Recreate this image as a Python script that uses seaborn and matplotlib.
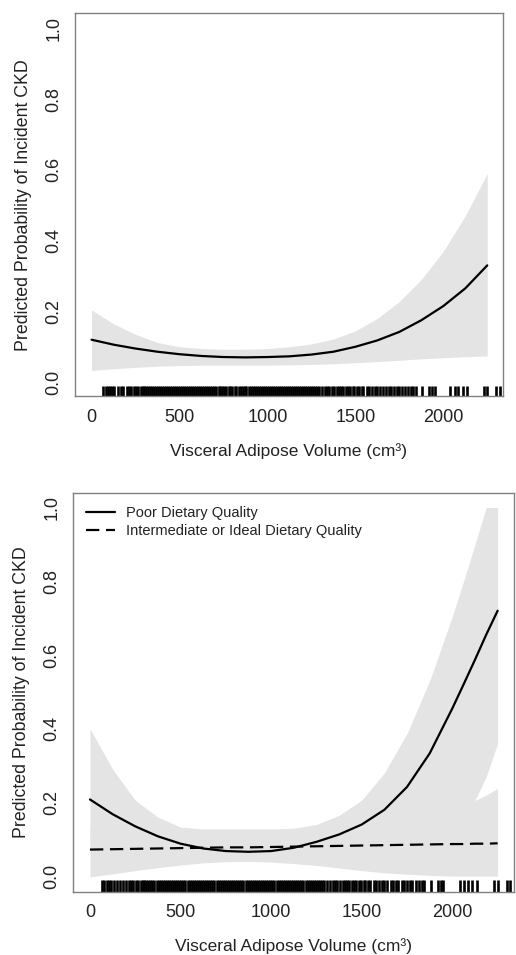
import matplotlib
matplotlib.use("Agg")
import matplotlib.pyplot as plt
import seaborn as sns

# --- data ---
# top panel: overall association
x_top = [0, 125, 250, 375, 500, 625, 750, 875, 1000, 1125, 1250, 1375, 1500,
         1625, 1750, 1875, 2000, 2125, 2250]
p_top = [0.120, 0.106, 0.095, 0.086, 0.079, 0.074, 0.071, 0.070, 0.071, 0.073,
         0.078, 0.086, 0.100, 0.118, 0.142, 0.175, 0.215, 0.265, 0.330]
hi_top = [0.204, 0.165, 0.135, 0.112, 0.100, 0.095, 0.093, 0.093, 0.095, 0.100,
          0.108, 0.122, 0.145, 0.180, 0.228, 0.290, 0.370, 0.470, 0.590]
lo_top = [0.033, 0.038, 0.042, 0.045, 0.047, 0.048, 0.048, 0.048, 0.048, 0.049,
          0.050, 0.052, 0.055, 0.058, 0.062, 0.066, 0.069, 0.072, 0.074]

# bottom panel: by dietary quality
x_bot = [0, 125, 250, 375, 500, 625, 750, 875, 1000, 1125, 1250, 1375, 1500,
         1625, 1750, 1875, 2000, 2062, 2125, 2187, 2250]
p_poor = [0.208, 0.168, 0.135, 0.108, 0.088, 0.075, 0.068, 0.066, 0.068, 0.077,
          0.093, 0.113, 0.140, 0.180, 0.242, 0.333, 0.455, 0.520, 0.587, 0.655, 0.720]
hi_poor = [0.400, 0.290, 0.206, 0.160, 0.133, 0.128, 0.128, 0.128, 0.128, 0.130,
           0.140, 0.165, 0.206, 0.280, 0.387, 0.530, 0.705, 0.800, 0.900, 1.000, 1.000]
lo_poor = [0.090, 0.085, 0.075, 0.063, 0.055, 0.048, 0.045, 0.044, 0.045, 0.050,
           0.060, 0.072, 0.088, 0.110, 0.135, 0.160, 0.180, 0.190, 0.205, 0.270, 0.360]
p_ideal = [0.072, 0.073, 0.074, 0.075, 0.076, 0.077, 0.078, 0.078, 0.079, 0.080,
           0.081, 0.082, 0.083, 0.084, 0.085, 0.086, 0.087, 0.087, 0.088, 0.088, 0.089]
hi_ideal = [0.130, 0.120, 0.110, 0.105, 0.102, 0.102, 0.104, 0.106, 0.110, 0.115,
            0.122, 0.130, 0.140, 0.150, 0.162, 0.175, 0.188, 0.196, 0.205, 0.220, 0.238]
lo_ideal = [-0.002, 0.006, 0.015, 0.023, 0.030, 0.036, 0.039, 0.040, 0.038, 0.034,
            0.029, 0.022, 0.015, 0.009, 0.005, 0.002, 0.000, 0.000, 0.000, 0.000, 0.000]

# observed visceral adipose volumes (rug)
rug_x = [65, 80, 92, 105, 118, 130, 150, 165, 180, 200, 215, 225, 240, 255, 265,
         280, 290,
         300, 310, 322, 333, 345, 356, 368, 379, 390, 402, 413, 425, 436, 447, 459,
         470, 482, 493, 505, 516, 527, 539, 550, 562, 573, 585, 596, 607, 619, 630,
         642, 653, 664, 676, 687, 699, 710, 722, 733, 744, 756, 767, 779, 790, 801,
         813, 824, 836, 847, 859, 870, 881, 893, 904, 916, 927, 939, 950, 961, 973,
         984, 996, 1007, 1018, 1030, 1041, 1053, 1064, 1076, 1087, 1098, 1110, 1121,
         1133, 1144, 1155, 1167, 1178, 1190, 1201, 1213, 1224, 1235, 1247, 1258,
         1270, 1281, 1292,
         1310, 1325, 1340, 1350, 1365, 1380, 1395, 1405, 1420, 1430, 1445, 1460,
         1470, 1485, 1495, 1510, 1520, 1535, 1545,
         1565, 1580, 1595, 1610, 1625, 1640, 1660, 1675, 1690, 1700, 1720, 1735,
         1750, 1765, 1780, 1800, 1815, 1830, 1845,
         1880, 1920, 1935, 1950, 2040, 2066, 2085, 2110, 2135, 2230, 2250, 2300, 2320]

xticks = [0, 500, 1000, 1500, 2000]
yticks = [0.0, 0.2, 0.4, 0.6, 0.8, 1.0]
xlabel = "Visceral Adipose Volume (cm\u00b3)"
ylabel = "Predicted Probability of Incident CKD"

sns.set_theme(style="white")
plt.rcParams['font.family'] = ['Liberation Sans', 'DejaVu Sans']

band = "#e4e4e4"
ink = "#222222"
edge = "#808080"

fig = plt.figure(figsize=(5.16, 9.55), dpi=100)
ax1 = fig.add_axes([0.145, 0.585, 0.830, 0.401])
ax2 = fig.add_axes([0.141, 0.066, 0.855, 0.418])


def style_axis(ax, ylim, lab_x, lab_y, rug_h):
    ax.set_xlim(-95, 2340)
    ax.set_ylim(*ylim)
    ax.set_xticks(xticks)
    ax.set_xticklabels([str(t) for t in xticks])
    ax.set_yticks(yticks)
    ax.set_yticklabels([f"{t:.1f}" for t in yticks], rotation=90, va="center")
    ax.tick_params(axis="both", direction="out", length=5, width=0.8, color=edge,
                   labelsize=13, labelcolor=ink)
    ax.tick_params(axis="x", pad=4)
    ax.tick_params(axis="y", pad=4)
    for s in ax.spines.values():
        s.set_visible(True)
        s.set_color(edge)
        s.set_linewidth(1.0)
    ax.set_xlabel(xlabel, fontsize=12.5, color=ink)
    ax.set_ylabel(ylabel, fontsize=12.8, color=ink)
    ax.xaxis.set_label_coords(0.5, lab_x)
    ax.yaxis.set_label_coords(lab_y, 0.5)
    sns.rugplot(x=rug_x, ax=ax, height=rug_h, color="black", linewidth=1.9,
                expand_margins=False)


# top panel
ax1.fill_between(x_top, lo_top, hi_top, color=band, lw=0)
sns.lineplot(x=x_top, y=p_top, ax=ax1, color="black", lw=1.6)
style_axis(ax1, (-0.04, 1.042), -0.123, -0.100, 0.026)

# bottom panel
ax2.fill_between(x_bot, lo_poor, hi_poor, color=band, lw=0)
ax2.fill_between(x_bot, lo_ideal, hi_ideal, color=band, lw=0)
sns.lineplot(x=x_bot, y=p_poor, ax=ax2, color="black", lw=1.6,
             label="Poor Dietary Quality")
sns.lineplot(x=x_bot, y=p_ideal, ax=ax2, color="black", lw=1.6,
             label="Intermediate or Ideal Dietary Quality")
ax2.lines[-1].set_dashes((6, 3))
style_axis(ax2, (-0.043, 1.04), -0.115, -0.098, 0.03)
leg = ax2.legend(loc="upper left", frameon=False, fontsize=10.5, handlelength=2.0,
                 handletextpad=0.75, labelspacing=0.3, borderaxespad=0.5)
for t in leg.get_texts():
    t.set_color(ink)

fig.savefig("out.png", dpi=100, facecolor="white")
